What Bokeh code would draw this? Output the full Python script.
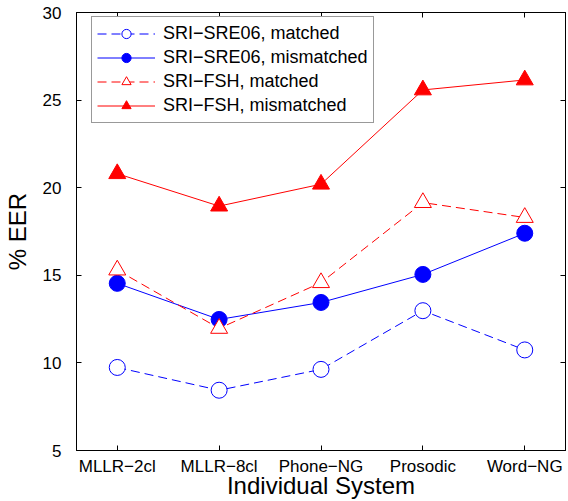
from bokeh.plotting import figure
from bokeh.models import Range1d, FixedTicker, LinearAxis, Legend, LegendItem
from bokeh.embed import file_html
from bokeh.resources import INLINE

systems = ["MLLR\u22122cl", "MLLR\u22128cl", "Phone\u2212NG", "Prosodic", "Word\u2212NG"]
sre06_matched = [9.74, 8.44, 9.63, 12.98, 10.74]
sre06_mismatched = [14.54, 12.48, 13.45, 15.05, 17.40]
fsh_matched = [15.30, 11.97, 14.58, 19.15, 18.30]
fsh_mismatched = [20.80, 18.95, 20.20, 25.58, 26.15]
y_ticks = [5, 10, 15, 20, 25, 30]
series_labels = ["SRI\u2212SRE06, matched", "SRI\u2212SRE06, mismatched",
                 "SRI\u2212FSH, matched", "SRI\u2212FSH, mismatched"]

xs = list(range(1, len(systems) + 1))
FONT = "Liberation Sans"

W, H = 566, 501
TOP, BOTTOM = 12, 49
FRAME_H = H - TOP - BOTTOM

p = figure(width=W, height=H, output_backend="svg", toolbar_location=None,
           x_range=Range1d(0.6, 5.4), y_range=Range1d(5, 30),
           min_border_left=76, min_border_right=1, min_border_top=TOP,
           min_border_bottom=BOTTOM)
p.xgrid.visible = False
p.ygrid.visible = False
p.outline_line_color = "black"
p.outline_line_width = 1
p.background_fill_color = "white"
p.border_fill_color = "white"

xa = p.xaxis[0]
xa.ticker = FixedTicker(ticks=xs)
xa.major_label_overrides = {x: s for x, s in zip(xs, systems)}
xa.axis_label = "Individual System"
ya = p.yaxis[0]
ya.ticker = FixedTicker(ticks=y_ticks)
ya.axis_label = "% EER"

for ax in (xa, ya):
    ax.major_tick_in = 5
    ax.major_tick_out = 0
    ax.minor_tick_in = 0
    ax.minor_tick_out = 0
    ax.axis_line_color = "black"
    ax.major_tick_line_color = "black"
    ax.major_label_text_font = FONT
    ax.major_label_text_font_size = "17px"
    ax.major_label_text_color = "black"
    ax.axis_label_text_font = FONT
    ax.axis_label_text_font_size = "24px"
    ax.axis_label_text_font_style = "normal"
    ax.axis_label_text_color = "black"
xa.major_label_standoff = 6
xa.axis_label_standoff = -7
ya.major_label_standoff = 15
ya.axis_label_standoff = 9

top = LinearAxis(ticker=FixedTicker(ticks=xs))
right = LinearAxis(ticker=FixedTicker(ticks=y_ticks))
for ax in (top, right):
    ax.major_tick_in = 5
    ax.major_tick_out = 0
    ax.minor_tick_in = 0
    ax.minor_tick_out = 0
    ax.major_label_text_font_size = "0px"
    ax.major_label_standoff = 0
    ax.axis_line_color = "black"
p.add_layout(top, "above")
p.add_layout(right, "right")

BLUE = "#0000ff"
RED = "#ff0000"
DASH = "9 5"

items = []
specs = [
    (sre06_matched, BLUE, DASH, "circle", "white", 16),
    (sre06_mismatched, BLUE, "solid", "circle", BLUE, 16),
    (fsh_matched, RED, DASH, "triangle", "white", 17),
    (fsh_mismatched, RED, "solid", "triangle", RED, 17),
]
for (vals, col, dash, marker, fill, size), lab in zip(specs, series_labels):
    lr = p.line(xs, vals, line_color=col, line_width=1, line_dash=dash)
    sr = p.scatter(xs, vals, marker=marker, size=size, line_color=col,
                   fill_color=fill, line_width=1)
    items.append(LegendItem(label=lab, renderers=[lr, sr]))

LEG_H = 4 * 23 + 3 * 1 + 2 * 5
legend = Legend(items=items, location=(15, FRAME_H - 8 - LEG_H))
legend.label_text_font = FONT
legend.label_text_font_size = "18px"
legend.label_text_color = "black"
legend.glyph_width = 58
legend.glyph_height = 23
legend.label_height = 23
legend.label_standoff = 8
legend.spacing = 1
legend.padding = 5
legend.margin = 0
legend.border_line_color = "#333333"
legend.border_line_width = 1
legend.background_fill_color = "white"
legend.background_fill_alpha = 1
p.add_layout(legend, "center")

open("out.html", "w").write(file_html(p, INLINE))
